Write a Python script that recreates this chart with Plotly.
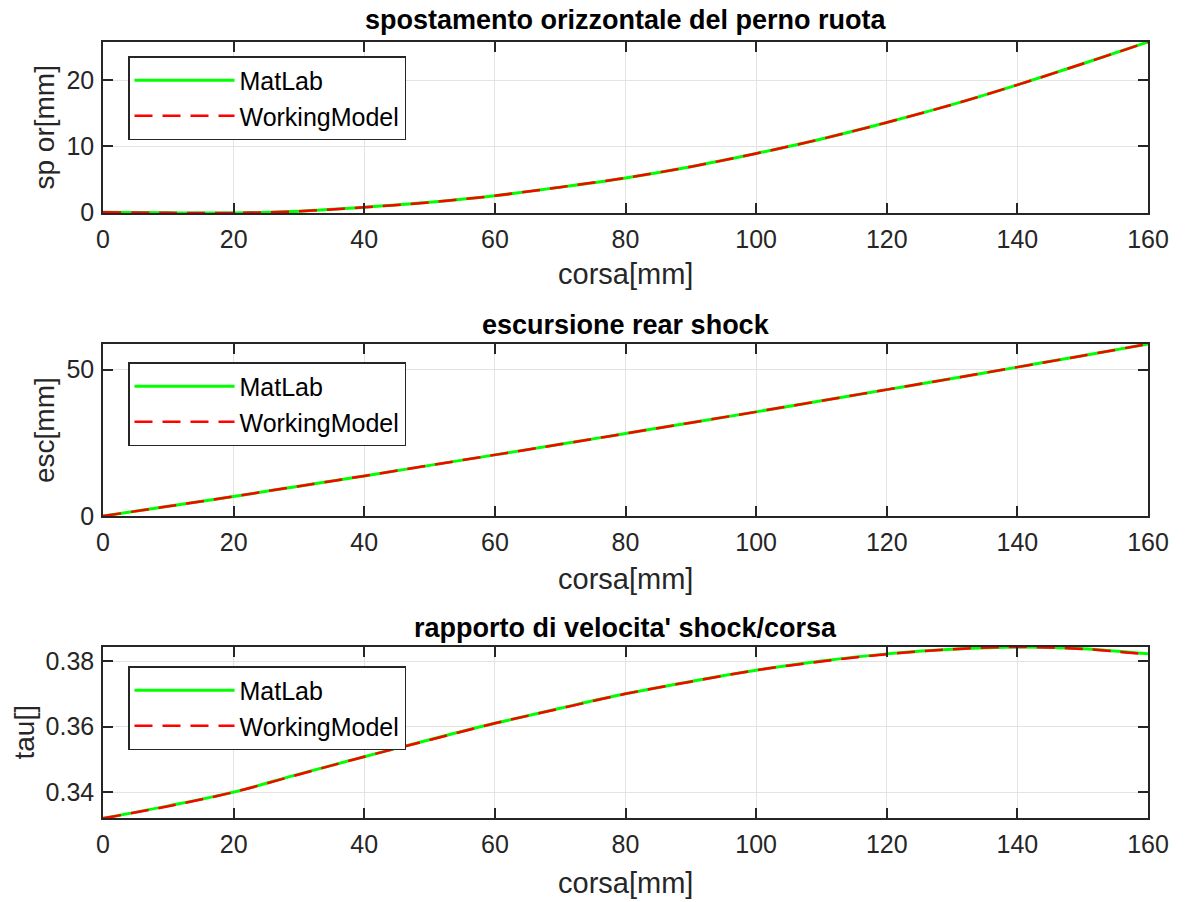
import plotly.graph_objects as go

# ---------------- data ----------------
corsa = [0, 10, 20, 30, 40, 50, 60, 70, 80, 90, 100, 110, 120, 130, 140, 150, 160]

sp_or_matlab = [0.0, -0.10, -0.12, 0.15, 0.75, 1.5, 2.5, 3.8, 5.2, 6.9, 8.9, 11.1, 13.6, 16.3, 19.3, 22.5, 25.8]
sp_or_wm     = [0.0, -0.10, -0.12, 0.15, 0.75, 1.5, 2.5, 3.8, 5.2, 6.9, 8.9, 11.1, 13.6, 16.3, 19.3, 22.5, 25.8]

esc_matlab = [0.0, 3.3, 6.7, 10.2, 13.7, 17.3, 20.9, 24.5, 28.2, 31.9, 35.6, 39.4, 43.2, 47.0, 50.9, 54.8, 58.8]
esc_wm     = [0.0, 3.3, 6.7, 10.2, 13.7, 17.3, 20.9, 24.5, 28.2, 31.9, 35.6, 39.4, 43.2, 47.0, 50.9, 54.8, 58.8]

tau_matlab = [0.3320, 0.3358, 0.3400, 0.3455, 0.3508, 0.3560, 0.3610, 0.3656, 0.3700,
              0.3738, 0.3772, 0.3800, 0.3822, 0.3836, 0.3843, 0.3838, 0.3822]
tau_wm     = [0.3320, 0.3357, 0.3400, 0.3454, 0.3508, 0.3559, 0.3610, 0.3655, 0.3700,
              0.3737, 0.3772, 0.3799, 0.3821, 0.3836, 0.3843, 0.3837, 0.3820]

titles = ["spostamento orizzontale del perno ruota", "escursione rear shock",
          "rapporto di velocita' shock/corsa"]
ylabels = ["sp or[mm]", "esc[mm]", "tau[]"]
xlabel = "corsa[mm]"
series_names = ["MatLab", "WorkingModel"]

x_ticks = [0, 20, 40, 60, 80, 100, 120, 140, 160]
y_ticks = [[0, 10, 20], [0, 50], [0.34, 0.36, 0.38]]
y_ranges = [[-0.12, 25.8], [0, 58.8], [0.3321, 0.3843]]

# ---------------- layout geometry ----------------
W, H = 1195, 902
x0, x1 = 103 / W, 1148 / W
domains = [[(H - 213) / H, (H - 42) / H],
           [(H - 516) / H, (H - 344) / H],
           [(H - 818) / H, (H - 647) / H]]
title_y = [20, 325, 628]
xlabel_y = [274, 579, 883]
ylabel_x = [44, 44, 24]
legend_top = [56, 362, 666]

FONT = "Liberation Sans, Arial, sans-serif"
TXT = "#262626"
GREEN = "#00FF00"
RED = "#FF0000"

fig = go.Figure()
data = [(sp_or_matlab, sp_or_wm), (esc_matlab, esc_wm), (tau_matlab, tau_wm)]
for i, (m, w) in enumerate(data):
    sfx = "" if i == 0 else str(i + 1)
    leg = "legend" if i == 0 else f"legend{i + 1}"
    fig.add_trace(go.Scatter(x=corsa, y=m, mode="lines", name=series_names[0],
                             line=dict(color=GREEN, width=3, shape="spline"),
                             xaxis="x" + sfx, yaxis="y" + sfx, legend=leg))
    fig.add_trace(go.Scatter(x=corsa, y=w, mode="lines", name=series_names[1],
                             line=dict(color=RED, width=2.5, dash="18px,10px", shape="spline"),
                             xaxis="x" + sfx, yaxis="y" + sfx, legend=leg))

layout = dict(width=W, height=H, margin=dict(l=0, r=0, t=0, b=0, autoexpand=False),
              paper_bgcolor="white", plot_bgcolor="white",
              font=dict(family=FONT, color=TXT), showlegend=True)

annotations = []
for i in range(3):
    sfx = "" if i == 0 else str(i + 1)
    ax = dict(domain=[x0, x1], range=[0, 160], tickvals=x_ticks, automargin=False,
              showline=True, linecolor=TXT, linewidth=1.5, mirror="ticks",
              ticks="inside", ticklen=10, tickwidth=1.5, tickcolor=TXT,
              showgrid=True, gridcolor="#E3E3E3", gridwidth=1, zeroline=False,
              tickfont=dict(size=25, color=TXT, family=FONT), ticklabelstandoff=3,
              anchor="y" + sfx)
    ay = dict(domain=domains[i], range=y_ranges[i], tickvals=y_ticks[i], automargin=False,
              showline=True, linecolor=TXT, linewidth=1.5, mirror="ticks",
              ticks="inside", ticklen=10, tickwidth=1.5, tickcolor=TXT,
              showgrid=True, gridcolor="#E3E3E3", gridwidth=1, zeroline=False,
              tickfont=dict(size=25, color=TXT, family=FONT), ticklabelstandoff=2,
              anchor="x" + sfx)
    if i == 2:
        ay["tickformat"] = ".2f"
    layout["xaxis" + sfx] = ax
    layout["yaxis" + sfx] = ay
    leg = "legend" if i == 0 else f"legend{i + 1}"
    layout[leg] = dict(x=128 / W, y=(H - legend_top[i]) / H, xanchor="left", yanchor="top",
                       bgcolor="white", bordercolor="#262626", borderwidth=1.5,
                       font=dict(size=25, color="#000000", family=FONT),
                       itemwidth=100, tracegroupgap=0)
    annotations.append(dict(text="<b>" + titles[i] + "</b>", x=(x0 + x1) / 2, y=(H - title_y[i]) / H,
                            xref="paper", yref="paper", showarrow=False, xanchor="center",
                            yanchor="middle", font=dict(size=27, color="#000000", family=FONT)))
    annotations.append(dict(text=xlabel, x=(x0 + x1) / 2, y=(H - xlabel_y[i]) / H,
                            xref="paper", yref="paper", showarrow=False, xanchor="center",
                            yanchor="middle", font=dict(size=29, color=TXT, family=FONT)))
    annotations.append(dict(text=ylabels[i], x=ylabel_x[i] / W, y=sum(domains[i]) / 2,
                            xref="paper", yref="paper", showarrow=False, xanchor="center",
                            yanchor="middle", textangle=-90,
                            font=dict(size=28, color=TXT, family=FONT)))
layout["annotations"] = annotations
fig.update_layout(**layout)
fig.write_html("out.html")
